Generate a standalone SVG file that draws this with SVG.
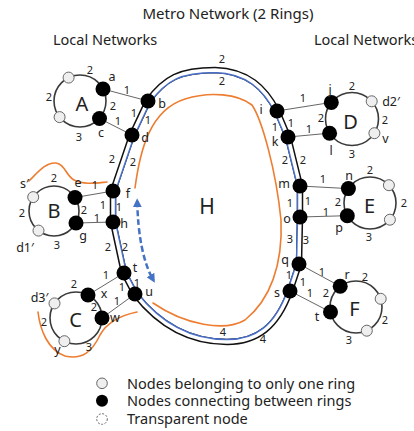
<svg xmlns="http://www.w3.org/2000/svg" xmlns:xlink="http://www.w3.org/1999/xlink" width="414" height="431" viewBox="0 0 414 431">
  <style>
    text { font-family: "Noto Sans", "Open Sans", "DejaVu Sans", sans-serif; fill: #222; }
    .num { font-size: 11px; text-anchor: middle; }
    .lbl { font-size: 12.5px; text-anchor: middle; }
    .big { font-size: 20px; text-anchor: middle; }
    .hdr { font-size: 14.5px; }
    .ttl { font-size: 15px; text-anchor: middle; }
    .leg { font-size: 14.5px; }
    .local { fill: none; stroke: #3a3a3a; stroke-width: 1.6; }
    .link { stroke: #666; stroke-width: 1; fill: none; }
    .hub { fill: #000; }
    .solo { fill: #efefef; stroke: #666; stroke-width: 1; }
    .orange { fill: none; stroke: #ed7d31; stroke-width: 1.6; stroke-linecap: round; }
  </style>
  <defs>
    <!-- centre line of the two-ring metro loop -->
    <path id="metro" d="M148,101 C165,78 180,70 215,70 C248,71 265,88 277,111 L288,137 L300,186 L300,217 L299,264 L290,291 C277,327 257,342 227,342 C192,342 160,326 135,294 L124,273 L113,222 L113,191 L132,135 Z"/>
    <clipPath id="metro-inside">
      <use xlink:href="#metro"/>
    </clipPath>
    <marker id="arrow" viewBox="0 0 10 10" refX="7" refY="5" markerWidth="3.6" markerHeight="3.6" orient="auto-start-reverse">
      <path d="M0,0 L10,5 L0,10 Z" fill="#4472c4"/>
    </marker>
  </defs>

  <!-- headings -->
  <text class="ttl" x="228" y="18.5">Metro Network (2 Rings)</text>
  <text class="hdr" x="53" y="44.5">Local Networks</text>
  <text class="hdr" x="314" y="44.5">Local Networks</text>

  <!-- metro ring: black outer ring, blue inner ring -->
  <g id="metro-ring" stroke-linejoin="round">
    <use xlink:href="#metro" fill="none" stroke="#111" stroke-width="6.5"/>
    <use xlink:href="#metro" fill="none" stroke="#4a6fc7" stroke-width="6.5" clip-path="url(#metro-inside)"/>
    <use xlink:href="#metro" fill="none" stroke="#fff" stroke-width="3.5"/>
  </g>

  <!-- local rings -->
  <g id="local-rings">
    <circle id="ring-A" class="local" cx="80" cy="101" r="26"/>
    <circle id="ring-B" class="local" cx="54" cy="211" r="25"/>
    <circle id="ring-C" class="local" cx="76" cy="318" r="26"/>
    <circle id="ring-D" class="local" cx="352" cy="119" r="26.5"/>
    <circle id="ring-E" class="local" cx="370" cy="203" r="26"/>
    <circle id="ring-F" class="local" cx="356" cy="307" r="26"/>
  </g>

  <!-- connectors between local rings and the metro ring -->
  <g id="connectors">
    <line class="link" x1="103" y1="89" x2="148" y2="101"/>
    <line class="link" x1="99.5" y1="118.5" x2="132" y2="135"/>
    <line class="link" x1="75" y1="197.5" x2="113" y2="191"/>
    <line class="link" x1="76" y1="223" x2="113" y2="222"/>
    <line class="link" x1="88" y1="295" x2="124" y2="273"/>
    <line class="link" x1="102" y1="318" x2="135" y2="294"/>
    <line class="link" x1="277" y1="111" x2="331.3" y2="102.4"/>
    <line class="link" x1="288" y1="137" x2="329.6" y2="133.2"/>
    <line class="link" x1="300" y1="186" x2="348.4" y2="188.6"/>
    <line class="link" x1="300" y1="217" x2="347.3" y2="215.7"/>
    <line class="link" x1="299" y1="264" x2="340.2" y2="286.3"/>
    <line class="link" x1="290" y1="291" x2="330.5" y2="312"/>
  </g>

  <!-- protection path outlines -->
  <g id="paths">
    <path class="orange" d="M135,188 C140,150 150,110 185,99 C210,91 238,94 252,105 C262,120 276,170 281,220 C283,265 270,300 245,320 C225,332 185,325 153,303"/>
    <path class="orange" d="M29,181 C38,172 46,162 56,163 C65,164 66,176 74,180 C84,185 96,183 107,182"/>
    <path class="orange" d="M38,312 C40,330 48,350 65,356 C82,360 92,352 100,335 C106,324 118,316 137,312"/>
    <path d="M137.2,201 C138,235 143,262 153.5,280.5" fill="none" stroke="#4472c4" stroke-width="2.5" stroke-dasharray="6 3" marker-start="url(#arrow)" marker-end="url(#arrow)"/>
  </g>

  <!-- metro ring nodes -->
  <g id="node-b"><circle class="hub" cx="148" cy="101" r="7.5"/><text class="lbl" x="162" y="107.5">b</text></g>
  <g id="node-d"><circle class="hub" cx="132" cy="135" r="7.5"/><text class="lbl" x="145" y="141.5">d</text></g>
  <g id="node-f"><circle class="hub" cx="113" cy="191" r="7.5"/><text class="lbl" x="128" y="197.5">f</text></g>
  <g id="node-h"><circle class="hub" cx="113" cy="222" r="7.5"/><text class="lbl" x="124" y="227.5">h</text></g>
  <g id="node-t"><circle class="hub" cx="124" cy="273" r="7.5"/><text class="lbl" x="135" y="272">t</text></g>
  <g id="node-u"><circle class="hub" cx="135" cy="294" r="7.5"/><text class="lbl" x="149" y="295.5">u</text></g>
  <g id="node-i"><circle class="hub" cx="277" cy="111" r="7.5"/><text class="lbl" x="261" y="113.5">i</text></g>
  <g id="node-k"><circle class="hub" cx="288" cy="137" r="7.5"/><text class="lbl" x="275" y="146">k</text></g>
  <g id="node-m"><circle class="hub" cx="300" cy="186" r="7.5"/><text class="lbl" x="284" y="187.5">m</text></g>
  <g id="node-o"><circle class="hub" cx="300" cy="217" r="7.5"/><text class="lbl" x="287" y="222.5">o</text></g>
  <g id="node-q"><circle class="hub" cx="299" cy="264" r="7.5"/><text class="lbl" x="285" y="264">q</text></g>
  <g id="node-s"><circle class="hub" cx="290" cy="291" r="7.5"/><text class="lbl" x="277" y="296.5">s</text></g>

  <!-- local network A -->
  <g id="node-a"><circle class="hub" cx="103" cy="89" r="7.5"/><text class="lbl" x="112" y="80.5">a</text></g>
  <g id="node-c"><circle class="hub" cx="99.5" cy="118.5" r="7.5"/><text class="lbl" x="101" y="136.5">c</text></g>
  <g id="node-A1"><circle class="solo" cx="68.6" cy="77.6" r="5.5"/></g>
  <g id="node-A2"><circle class="solo" cx="59.6" cy="117.1" r="5.5"/></g>
  <text class="big" x="82" y="110.5">A</text>

  <!-- local network B -->
  <g id="node-e"><circle class="hub" cx="75" cy="197.5" r="7.5"/><text class="lbl" x="78" y="186.5">e</text></g>
  <g id="node-g"><circle class="hub" cx="76" cy="223" r="7.5"/><text class="lbl" x="83" y="240">g</text></g>
  <g id="node-s1"><circle class="solo" cx="33.2" cy="197.1" r="5.5"/><text class="lbl" x="24.5" y="187.5">s′</text></g>
  <g id="node-d1"><circle class="solo" cx="38.5" cy="230.6" r="5.5"/><text class="lbl" x="25" y="251.5">d1′</text></g>
  <text class="big" x="54" y="218">B</text>

  <!-- local network C -->
  <g id="node-x"><circle class="hub" cx="88" cy="295" r="7.5"/><text class="lbl" x="104" y="297.5">x</text></g>
  <g id="node-w"><circle class="hub" cx="102" cy="318" r="7.5"/><text class="lbl" x="115" y="321.5">w</text></g>
  <g id="node-d3"><circle class="solo" cx="54.5" cy="303.4" r="5.5"/><text class="lbl" x="39.5" y="301.5">d3′</text></g>
  <g id="node-y"><circle class="solo" cx="64.4" cy="341.2" r="5.5"/><text class="lbl" x="57.5" y="354">y</text></g>
  <text class="big" x="75.5" y="327">C</text>

  <!-- local network D -->
  <g id="node-j"><circle class="hub" cx="331.3" cy="102.4" r="7.5"/><text class="lbl" x="330" y="93.5">j</text></g>
  <g id="node-l"><circle class="hub" cx="329.6" cy="133.2" r="7.5"/><text class="lbl" x="331" y="154.5">l</text></g>
  <g id="node-d2"><circle class="solo" cx="371.7" cy="101.3" r="5.5"/><text class="lbl" x="391" y="105.5">d2′</text></g>
  <g id="node-v"><circle class="solo" cx="374.4" cy="133.2" r="5.5"/><text class="lbl" x="385.5" y="142.5">v</text></g>
  <text class="big" x="350.5" y="128.5">D</text>

  <!-- local network E -->
  <g id="node-n"><circle class="hub" cx="348.4" cy="188.6" r="7.5"/><text class="lbl" x="349" y="179.5">n</text></g>
  <g id="node-p"><circle class="hub" cx="347.3" cy="215.7" r="7.5"/><text class="lbl" x="339" y="232">p</text></g>
  <g id="node-E1"><circle class="solo" cx="388.9" cy="185.2" r="5.5"/></g>
  <g id="node-E2"><circle class="solo" cx="389.9" cy="219.7" r="5.5"/></g>
  <text class="big" x="369.5" y="213">E</text>

  <!-- local network F -->
  <g id="node-r"><circle class="hub" cx="340.2" cy="286.3" r="7.5"/><text class="lbl" x="347" y="278.5">r</text></g>
  <g id="node-tF"><circle class="hub" cx="330.5" cy="312" r="7.5"/><text class="lbl" x="317" y="321">t</text></g>
  <g id="node-F1"><circle class="solo" cx="380.7" cy="298.8" r="5.5"/></g>
  <g id="node-F2"><circle class="solo" cx="366.8" cy="330.7" r="5.5"/></g>
  <text class="big" x="354.5" y="316">F</text>

  <text class="big" x="207" y="213.5" style="font-size:21px">H</text>

  <!-- link weights -->
  <g id="weights" class="num">
    <text class="num" x="222" y="63">2</text>
    <text class="num" x="222" y="85">2</text>
    <text class="num" x="223" y="336">4</text>
    <text class="num" x="263" y="343">4</text>
    <!-- A -->
    <text class="num" x="90" y="74">2</text>
    <text class="num" x="49" y="101">2</text>
    <text class="num" x="113" y="110">2</text>
    <text class="num" x="79" y="141">3</text>
    <text class="num" x="127" y="94">1</text>
    <text class="num" x="118" y="125">1</text>
    <text class="num" x="134" y="117">1</text>
    <text class="num" x="148" y="124">1</text>
    <text class="num" x="112" y="163">2</text>
    <text class="num" x="133" y="166">2</text>
    <!-- B -->
    <text class="num" x="54" y="182">2</text>
    <text class="num" x="95" y="189">1</text>
    <text class="num" x="22" y="217">2</text>
    <text class="num" x="84" y="214">2</text>
    <text class="num" x="97" y="222">1</text>
    <text class="num" x="103" y="209">1</text>
    <text class="num" x="119" y="211">1</text>
    <text class="num" x="57" y="249">3</text>
    <text class="num" x="108" y="251">2</text>
    <text class="num" x="125" y="251">2</text>
    <!-- C -->
    <text class="num" x="106" y="279">1</text>
    <text class="num" x="74" y="288">2</text>
    <text class="num" x="122" y="291">1</text>
    <text class="num" x="137" y="287">1</text>
    <text class="num" x="117" y="305">1</text>
    <text class="num" x="94" y="311">2</text>
    <text class="num" x="44" y="326">2</text>
    <text class="num" x="89" y="351">3</text>
    <!-- D -->
    <text class="num" x="303" y="102">1</text>
    <text class="num" x="352" y="90">2</text>
    <text class="num" x="321" y="122">2</text>
    <text class="num" x="385" y="124">2</text>
    <text class="num" x="309" y="133">1</text>
    <text class="num" x="275" y="131">1</text>
    <text class="num" x="291" y="127">1</text>
    <text class="num" x="352" y="158">3</text>
    <text class="num" x="285" y="164">2</text>
    <text class="num" x="303" y="164">2</text>
    <!-- E -->
    <text class="num" x="323" y="183">1</text>
    <text class="num" x="370" y="174">2</text>
    <text class="num" x="290" y="207">1</text>
    <text class="num" x="308" y="205">1</text>
    <text class="num" x="338" y="206">2</text>
    <text class="num" x="404" y="207">2</text>
    <text class="num" x="326" y="216">1</text>
    <text class="num" x="369" y="241">3</text>
    <text class="num" x="290" y="243">3</text>
    <text class="num" x="306" y="244">3</text>
    <!-- F -->
    <text class="num" x="322" y="276">1</text>
    <text class="num" x="365" y="281">2</text>
    <text class="num" x="289" y="279">1</text>
    <text class="num" x="303" y="286">1</text>
    <text class="num" x="310" y="297">1</text>
    <text class="num" x="326" y="297">2</text>
    <text class="num" x="385" y="324">2</text>
    <text class="num" x="349" y="344">3</text>
  </g>

  <!-- legend -->
  <g id="legend">
    <circle cx="102" cy="383.3" r="5.3" fill="#efefef" stroke="#666" stroke-width="1"/>
    <circle cx="102" cy="400.7" r="6" fill="#000"/>
    <circle cx="102" cy="419" r="5.3" fill="none" stroke="#666" stroke-width="1" stroke-dasharray="2 1.5"/>
    <text class="leg" x="127" y="388.5">Nodes belonging to only one ring</text>
    <text class="leg" x="127" y="405.9">Nodes connecting between rings</text>
    <text class="leg" x="127" y="424.2">Transparent node</text>
  </g>
</svg>
